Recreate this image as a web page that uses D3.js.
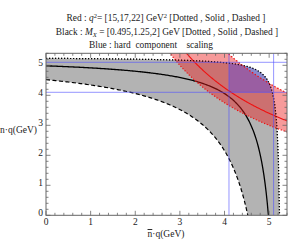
<!DOCTYPE html>
<html><head><meta charset="utf-8">
<script src="https://cdn.jsdelivr.net/npm/d3@7"></script>
<style>body{margin:0;background:#fff}svg{display:block}text{font-family:"Liberation Serif","DejaVu Serif",serif;fill:#222}</style>
</head><body>
<svg id="c" width="288" height="241"></svg>
<script>
// ---- data ----
const q2Values = [15, 17, 22];            // red: dotted, solid, dashed
const mxValues = [0.495, 1.25, 2];        // black: dotted, solid, dashed
const mB = 5.279;                         // B-meson mass (GeV)
const blueBounds = [4.1, 5.1];            // hard component scaling box
const xTicks = [0, 1, 2, 3, 4, 5];
const yTicks = [0, 1, 2, 3, 4, 5];
const axisMax = 5.4;
const titleLines = [
  "Red",
  "Black",
  "Blue : hard  component    scaling"
];

const svg = d3.select("#c");
const x = d3.scaleLinear().domain([0, axisMax]).range([46, 287]);
const y = d3.scaleLinear().domain([0, axisMax]).range([215.3, 53.3]);

const defs = svg.append("defs");
defs.append("clipPath").attr("id", "plot").append("rect")
  .attr("x", x(0)).attr("y", y(axisMax)).attr("width", x(axisMax) - x(0)).attr("height", y(0) - y(axisMax));

const line = d3.line().x(d => x(d[0])).y(d => y(d[1]));
const N = 200;
// black curve: (mB - x)(mB - y) = M^2
function mxCurve(M) {
  const xEnd = mB - M * M / mB;
  return d3.range(N + 1).map(i => { const xv = xEnd * i / N; return [xv, Math.max(0, mB - M * M / (mB - xv))]; });
}
function q2Curve(q2, x0, x1) {
  return d3.range(N + 1).map(i => { const xv = x0 + (x1 - x0) * i / N; return [xv, q2 / xv]; });
}
const g = svg.append("g").attr("clip-path", "url(#plot)");

// gray region
const outer = mxCurve(mxValues[0]), inner = mxCurve(mxValues[2]);
const grayPoly = [[0, 0], ...outer, ...inner.slice().reverse()];
g.append("path").attr("d", line(grayPoly) + "Z").attr("fill", "#b3b3b3");
// kinematic region clip
defs.append("clipPath").attr("id", "kin").append("path").attr("d", line([[0, 0], ...outer]) + "Z");

const dashes = ["1.2,1.8", null, "4,2.5"];
mxValues.forEach((M, i) => {
  g.append("path").attr("d", line(mxCurve(M))).attr("fill", "none")
    .attr("stroke", "#000").attr("stroke-width", i === 1 ? 1.3 : 1.2)
    .attr("stroke-dasharray", dashes[i]);
});

// red region between q2 min and max
const qLo = q2Values[0], qHi = q2Values[2];
const lo = q2Curve(qLo, qLo / axisMax, axisMax + 0.2);
const hi = q2Curve(qHi, qHi / (axisMax + 0.2), axisMax + 0.2);
const redPoly = [[qLo / axisMax, axisMax + 0.2], ...lo, ...hi.slice().reverse(), [qHi / (axisMax + 0.2), axisMax + 0.2]];
g.append("path").attr("d", line(redPoly) + "Z").attr("fill", "rgba(235,30,30,0.45)");

// blue box
g.append("rect").attr("clip-path", "url(#kin)")
  .attr("x", x(blueBounds[0])).attr("y", y(blueBounds[1]))
  .attr("width", x(blueBounds[1]) - x(blueBounds[0])).attr("height", y(blueBounds[0]) - y(blueBounds[1]))
  .attr("fill", "rgba(60,60,255,0.35)");

// red lines
const redDash = ["1.2,1.8", null, "1.5,1.8"];
q2Values.forEach((q, i) => {
  g.append("path").attr("d", line(q2Curve(q, q / (axisMax + 0.2), axisMax + 0.2))).attr("fill", "none")
    .attr("stroke", "#f01010").attr("stroke-width", i === 1 ? 1.1 : 1.2).attr("stroke-dasharray", redDash[i]);
});
// outer dotted black again on top
g.append("path").attr("d", line(outer)).attr("fill", "none").attr("stroke", "#000").attr("stroke-opacity", 0.6)
  .attr("stroke-width", 1.2).attr("stroke-dasharray", "1.2,1.8");

// blue lines
blueBounds.forEach(b => {
  g.append("line").attr("x1", x(0)).attr("x2", x(axisMax)).attr("y1", y(b)).attr("y2", y(b))
    .attr("stroke", "rgba(80,80,255,0.6)").attr("stroke-width", 1);
  g.append("line").attr("y1", y(0)).attr("y2", y(axisMax)).attr("x1", x(b)).attr("x2", x(b))
    .attr("stroke", "rgba(80,80,255,0.6)").attr("stroke-width", 1);
});

// frame & ticks
const fc = "#666";
svg.append("rect").attr("x", x(0)).attr("y", y(axisMax)).attr("width", x(axisMax) - x(0)).attr("height", y(0) - y(axisMax))
  .attr("fill", "none").attr("stroke", fc).attr("stroke-width", 1);
const minor = d3.range(0, axisMax + 0.001, 0.2).filter(v => Math.abs(v - Math.round(v)) > 0.01);
const tk = svg.append("g").attr("stroke", fc).attr("stroke-width", 0.8);
function ticks(vals, len) {
  vals.forEach(v => {
    tk.append("line").attr("x1", x(v)).attr("x2", x(v)).attr("y1", y(0)).attr("y2", y(0) - len);
    tk.append("line").attr("x1", x(v)).attr("x2", x(v)).attr("y1", y(axisMax)).attr("y2", y(axisMax) + len);
    tk.append("line").attr("y1", y(v)).attr("y2", y(v)).attr("x1", x(0)).attr("x2", x(0) + len);
    tk.append("line").attr("y1", y(v)).attr("y2", y(v)).attr("x1", x(axisMax)).attr("x2", x(axisMax) - len);
  });
}
ticks(xTicks, 4.5);
ticks(minor, 2.5);

svg.append("g").selectAll("text").data(xTicks).join("text")
  .attr("x", d => x(d)).attr("y", 225).attr("text-anchor", "middle").attr("font-size", 9.5).text(d => d);
svg.append("g").selectAll("text").data(yTicks).join("text")
  .attr("x", 43).attr("y", d => y(d) + 1).attr("text-anchor", "end").attr("font-size", 9.5).text(d => d);

// axis labels
svg.append("text").attr("x", 37).attr("y", 133).attr("text-anchor", "end").attr("font-size", 9.5).text("n·q(GeV)");
const xl = svg.append("text").attr("x", 166).attr("y", 237).attr("text-anchor", "middle").attr("font-size", 9.5);
xl.append("tspan").attr("text-decoration", "overline").text("n");
xl.append("tspan").text("·q(GeV)");

// titles
const fs = 9.4;
const t1 = svg.append("text").attr("x", 166).attr("y", 21).attr("text-anchor", "middle").attr("font-size", fs);
t1.append("tspan").text("Red : ");
t1.append("tspan").attr("font-style", "italic").text("q");
t1.append("tspan").attr("dy", -3).attr("font-size", 6.5).text("2");
t1.append("tspan").attr("dy", 3).text("= [" + q2Values.join(",") + "] GeV");
t1.append("tspan").attr("dy", -3).attr("font-size", 6.5).text("2");
t1.append("tspan").attr("dy", 3).text(" [Dotted  , Solid , Dashed  ]");
const t2 = svg.append("text").attr("x", 167).attr("y", 35).attr("text-anchor", "middle").attr("font-size", fs);
t2.append("tspan").text("Black : ");
t2.append("tspan").attr("font-style", "italic").text("M");
t2.append("tspan").attr("dy", 2).attr("font-size", 6.5).attr("font-style", "italic").text("X");
t2.append("tspan").attr("dy", -2).text(" = [" + mxValues.join(",") + "] GeV [Dotted  , Solid , Dashed  ]");
svg.append("text").attr("x", 151).attr("y", 48).attr("text-anchor", "middle").attr("font-size", fs)
  .attr("style", "white-space:pre").text(titleLines[2]);
</script>
</body></html>
